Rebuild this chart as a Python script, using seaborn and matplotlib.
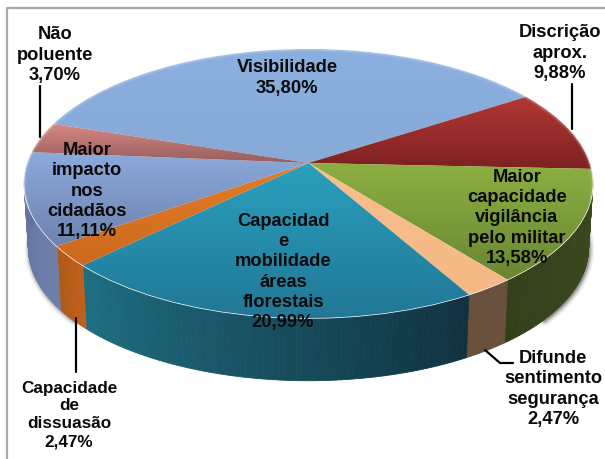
import numpy as np
import matplotlib
matplotlib.use("Agg")
from matplotlib import pyplot as plt
from matplotlib.transforms import Transform
import seaborn as sns

# clockwise from the back of the pie
categories = ["Visibilidade", "Discrição aprox.", "Maior capacidade vigilância pelo militar",
              "Difunde sentimento segurança", "Capacidade e mobilidade áreas florestais",
              "Capacidade de dissuasão", "Maior impacto nos cidadãos", "Não poluente"]
values = [35.80, 9.88, 13.58, 2.47, 20.99, 2.47, 11.11, 3.70]
labels = ["Visibilidade\n35,80%", "Discrição\naprox.\n9,88%",
          "Maior\ncapacidade\nvigilância\npelo militar\n13,58%",
          "Difunde\nsentimento\nsegurança\n2,47%",
          "Capacidad\ne\nmobilidade\náreas\nflorestais\n20,99%",
          "Capacidade\nde\ndissuasão\n2,47%",
          "Maior\nimpacto\nnos\ncidadãos\n11,11%", "Não\npoluente\n3,70%"]
label_x = [287, 560, 517, 553, 283, 69, 87, 55]
label_y = [78, 53, 218, 389, 272, 415, 191, 55]
label_size = [13.2, 13.2, 13.2, 13.2, 13.2, 12.3, 13.2, 13.2]

top_light = ["#8bb0e0", "#b23834", "#8caf41", "#f8be8c", "#2aa0be", "#e17d28", "#8caadc", "#d78782"]
top_dark = ["#87aad7", "#7d2121", "#698732", "#f5b987", "#217896", "#cd691e", "#6e82af", "#965f5f"]
side_start = ["#6e8cb4", "#5a1c1c", "#3c4b1e", "#69503c", "#113240", "#c0601a", "#6e7eaa", "#8c5a5a"]
side_end = ["#6e8cb4", "#5a1c1c", "#32411a", "#69503c", "#1e6e82", "#af5a19", "#5f739f", "#8c5a5a"]

leaders = [([40, 40], [86, 137]), ([572, 572], [84, 129]), ([76, 76], [318, 372]),
           ([485, 500, 513], [350, 363, 363])]

start_angle = 161.9
cx, cy = 308.5, 163
rx, ry = 281, 131.4
tilt_k = 0.1525
depth = 65
shrink = 0.985


class Tilt(Transform):
    input_dims = 2
    output_dims = 2

    def __init__(self, scale=1.0, shift=0.0):
        super().__init__()
        self.scale = scale
        self.shift = shift

    def transform_non_affine(self, values):
        pts = np.asarray(values)
        w = 1 + tilt_k * pts[:, 1]
        return np.column_stack((cx + self.scale * rx * pts[:, 0] / w,
                                cy + self.shift - self.scale * ry * pts[:, 1] / w))


def ring(thetas, tr):
    t = np.radians(thetas)
    return tr.transform_non_affine(np.column_stack((np.cos(t), np.sin(t))))


sns.set_theme(style="white")
plt.rcParams["font.family"] = ["Liberation Sans", "DejaVu Sans"]

fig = plt.figure(figsize=(6.05, 4.59), dpi=100)
ax = fig.add_axes([0, 0, 1, 1])

top = Tilt()
bottom = Tilt(shrink, depth)
edges = start_angle - 360 * np.concatenate(([0], np.cumsum(values))) / np.sum(values)

# soft shadow under the rim
all_angles = np.arange(-40, 221, 2.0)
low = ring(all_angles, bottom)
for lw, alpha in [(7, 0.05), (5, 0.08), (3, 0.12), (1.5, 0.2)]:
    ax.plot(low[:, 0] + 1, low[:, 1] + 1, color="black", lw=lw, alpha=alpha, zorder=1,
            solid_capstyle="round")

# side wall, one thin strip per degree
for i in range(len(values)):
    thetas = np.linspace(edges[i], edges[i + 1], max(int(edges[i] - edges[i + 1]) + 2, 3))
    shades = sns.blend_palette([side_start[i], side_end[i]], len(thetas) - 1)
    upper = ring(thetas, top)
    lower = ring(thetas, bottom)
    for j in range(len(thetas) - 1):
        if np.sin(np.radians(thetas[j])) > 0.25:
            continue
        xs = [upper[j, 0], upper[j + 1, 0], lower[j + 1, 0], lower[j, 0]]
        ys = [upper[j, 1], upper[j + 1, 1], lower[j + 1, 1], lower[j, 1]]
        ax.fill(xs, ys, color=shades[j], lw=0.6, zorder=2)

# top face
wedges, _ = ax.pie(values, startangle=start_angle, counterclock=False, colors=top_light)
ramp = np.linspace(0, 1, 200).reshape(-1, 1)
for i, wedge in enumerate(wedges):
    wedge.set_transform(top + ax.transData)
    wedge.set_zorder(3)
    box = top.transform_path(wedge.get_path()).get_extents()
    cmap = sns.blend_palette([top_light[i], top_dark[i]], as_cmap=True)
    img = ax.imshow(ramp, cmap=cmap, extent=(0, 605, box.y1, box.y0), aspect="auto",
                    interpolation="bilinear", zorder=3.1)
    img.set_clip_path(wedge)

# bevel highlight along the front rim
front = ring(np.arange(-15, 200, 1.0), top)
for lw, alpha in [(3, 0.07), (1.5, 0.16)]:
    ax.plot(front[:, 0], front[:, 1] + 0.5, color="white", lw=lw, alpha=alpha, zorder=4)

for xs, ys in leaders:
    ax.plot(xs, ys, color="black", lw=1.6, zorder=5)

for text, x, y, size in zip(labels, label_x, label_y, label_size):
    ax.text(x, y, text, ha="center", va="center", fontsize=size, fontweight="bold",
            color="#0a0a0a", linespacing=1.25, zorder=6)

# chart frame, only left and top show
ax.plot([6.5, 6.5, 605], [459, 7.5, 7.5], color="#a9a9a9", lw=1.6, zorder=0)

ax.set_aspect("auto")
ax.set_xlim(0, 605)
ax.set_ylim(459, 0)
ax.axis("off")
fig.savefig("out.png", dpi=100)
